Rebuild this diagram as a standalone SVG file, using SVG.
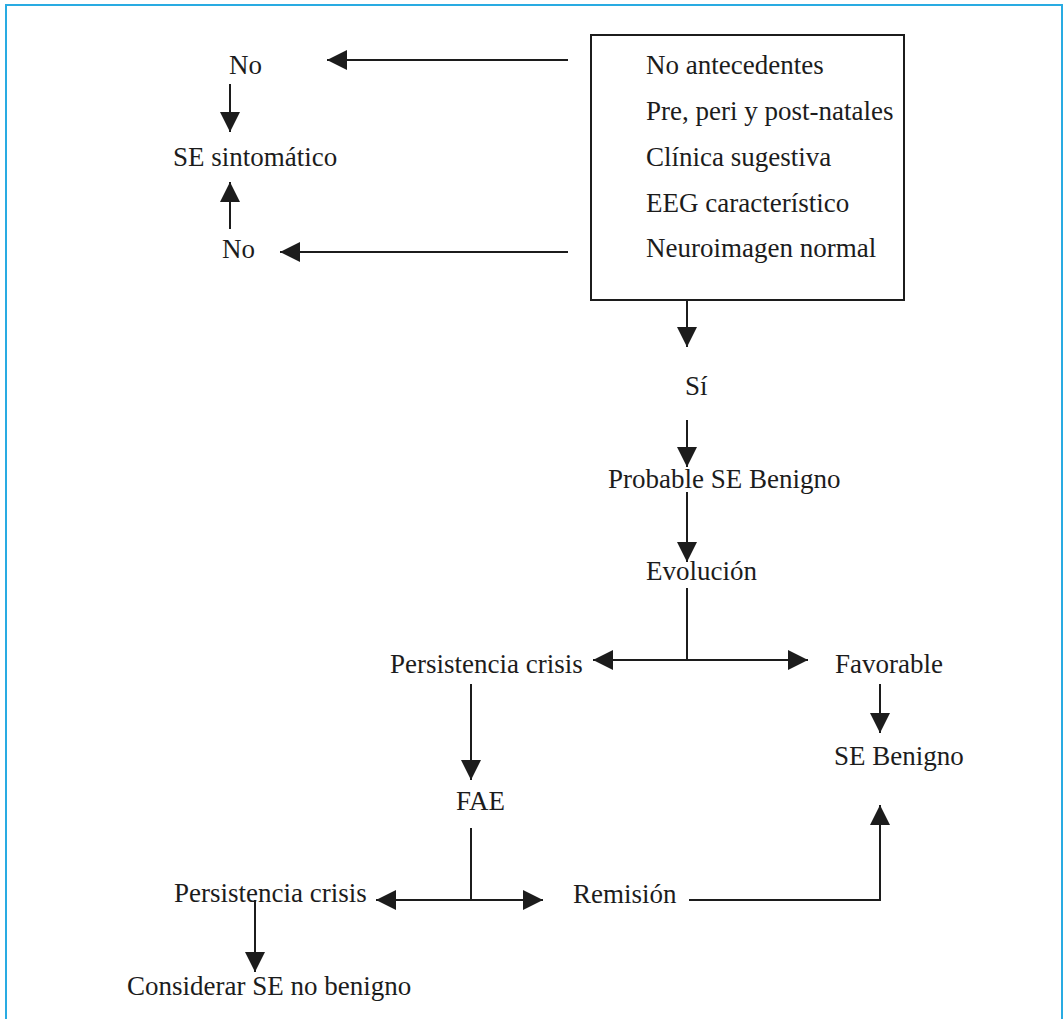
<svg xmlns="http://www.w3.org/2000/svg" width="1064" height="1019" viewBox="0 0 1064 1019">
<defs>
<style>
.t{font-family:"Liberation Serif","Times New Roman",serif;font-size:27px;fill:#1c1c1c}
.c{fill:none;stroke:#1c1c1c;stroke-width:2}
.a{marker-end:url(#arr)}
</style>
<marker id="arr" markerUnits="userSpaceOnUse" markerWidth="22" markerHeight="22" viewBox="0 0 22 22" refX="21" refY="11" orient="auto">
<path d="M1,1 L21,11 L1,21 Z" fill="#1c1c1c"/>
</marker>
</defs>
<rect width="1064" height="1019" fill="#fff"/>
<path d="M6,1019 V5 H1062 V1019" fill="none" stroke="#29abe2" stroke-width="2"/>
<g id="connectors">
<line class="c a" x1="568" y1="60" x2="327" y2="60"/>
<line class="c a" x1="568" y1="252" x2="280" y2="252"/>
<line class="c a" x1="230" y1="84" x2="230" y2="132"/>
<line class="c a" x1="230" y1="229" x2="230" y2="182"/>
<line class="c a" x1="687" y1="300" x2="687" y2="347"/>
<line class="c a" x1="687" y1="420" x2="687" y2="467"/>
<line class="c a" x1="687" y1="492" x2="687" y2="562"/>
<line class="c" x1="687" y1="588" x2="687" y2="660"/>
<line class="c a" x1="687" y1="660" x2="593" y2="660"/>
<line class="c a" x1="687" y1="660" x2="808" y2="660"/>
<line class="c a" x1="471" y1="684" x2="471" y2="780"/>
<line class="c a" x1="880" y1="684" x2="880" y2="733"/>
<line class="c" x1="471" y1="828" x2="471" y2="900"/>
<line class="c a" x1="471" y1="900" x2="376" y2="900"/>
<line class="c a" x1="471" y1="900" x2="543" y2="900"/>
<path class="c a" d="M689,900 H880 V805"/>
<line class="c a" x1="255" y1="900" x2="255" y2="972"/>
</g>
<g id="criteria">
<rect x="591" y="35" width="313" height="265" fill="none" stroke="#1c1c1c" stroke-width="2"/>
<text class="t" x="646" y="74">No antecedentes</text>
<text class="t" x="646" y="120">Pre, peri y post-natales</text>
<text class="t" x="646" y="166">Clínica sugestiva</text>
<text class="t" x="646" y="212">EEG característico</text>
<text class="t" x="646" y="257">Neuroimagen normal</text>
</g>
<g id="no1"><text class="t" x="229" y="74">No</text></g>
<g id="se-sintomatico"><text class="t" x="173" y="166">SE sintomático</text></g>
<g id="no2"><text class="t" x="222" y="258">No</text></g>
<g id="si"><text class="t" x="685" y="395">Sí</text></g>
<g id="probable"><text class="t" x="608" y="488">Probable SE Benigno</text></g>
<g id="evolucion"><text class="t" x="646" y="580">Evolución</text></g>
<g id="persistencia1"><text class="t" x="390" y="673">Persistencia crisis</text></g>
<g id="favorable"><text class="t" x="835" y="673">Favorable</text></g>
<g id="se-benigno"><text class="t" x="834" y="765">SE Benigno</text></g>
<g id="fae"><text class="t" x="456" y="810">FAE</text></g>
<g id="persistencia2"><text class="t" x="174" y="902">Persistencia crisis</text></g>
<g id="remision"><text class="t" x="573" y="903">Remisión</text></g>
<g id="considerar"><text class="t" x="127" y="995">Considerar SE no benigno</text></g>
</svg>
